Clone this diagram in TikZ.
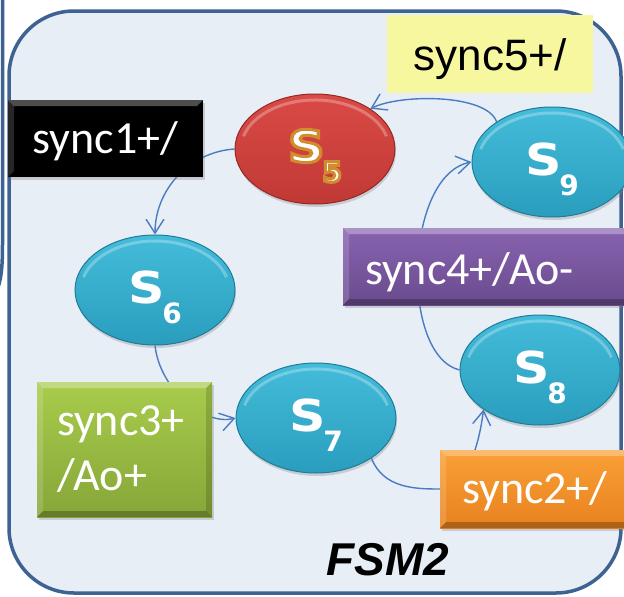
\documentclass[tikz,border=0pt]{standalone}
\usepackage{graphicx}
\usepackage{fontspec}
\newfontfamily\calib{Carlito}
\newfontfamily\arialf{Liberation Sans}
\newfontfamily\roundf{DejaVu Sans}
\usetikzlibrary{shapes.geometric,arrows.meta,calc,shadows}
\pgfdeclarelayer{frame}
\pgfdeclarelayer{wires}
\pgfsetlayers{frame,wires,main}

\definecolor{framec}{HTML}{3E6292}
\definecolor{panelc}{HTML}{E8EEF6}
\definecolor{wirec}{HTML}{4A7CC2}
\definecolor{cyanTop}{HTML}{44BCDA}
\definecolor{cyanBot}{HTML}{2A9DBD}
\definecolor{cyanEdge}{HTML}{1E7C98}
\definecolor{redTop}{HTML}{DA4A46}
\definecolor{redBot}{HTML}{C03935}
\definecolor{redEdge}{HTML}{962824}
\definecolor{yelc}{HTML}{F7F7A0}
\definecolor{purTop}{HTML}{8863B0}
\definecolor{purBot}{HTML}{6A4B8E}
\definecolor{grnTop}{HTML}{A8CC4C}
\definecolor{grnBot}{HTML}{86A638}
\definecolor{orgTop}{HTML}{F9A035}
\definecolor{orgBot}{HTML}{E8821F}

% white text with an amber outline (fill and stroke text rendering)
\newcommand\outlined[1]{\special{pdf:literal direct 2 Tr 3 w 0.82 0.55 0.18 RG}#1\special{pdf:literal direct 0 Tr 0 G}}
\newcommand\plain[1]{#1}
% state label: wide letter with a lowered digit; #1 wraps each glyph
\newcommand\stlabel[2]{\scalebox{1.15}[1]{#1{S}}\kern-2pt\raisebox{-20pt}{\fontsize{28}{28}\selectfont #1{#2}}}
\newcommand\stname[1]{\stlabel\plain{#1}}

\tikzset{
  state/.style={ellipse, minimum width=160pt, minimum height=110pt, inner sep=0pt,
    draw=#1Edge, line width=1pt, top color=#1Top, bottom color=#1Bot,
    drop shadow={shadow xshift=1pt, shadow yshift=-3pt, opacity=.3},
    path picture={\draw[white, opacity=.28, line width=3pt]
      ([shift={(165:74pt and 49pt)}]path picture bounding box.center)
      arc[start angle=165, end angle=15, x radius=74pt, y radius=49pt];},
    text=white, font=\roundf\bfseries\fontsize{44}{44}\selectfont,
    text height=32pt, text depth=6pt},
  bevel/.style={path picture={
    \coordinate (bnw) at (path picture bounding box.north west);
    \coordinate (bne) at (path picture bounding box.north east);
    \coordinate (bsw) at (path picture bounding box.south west);
    \coordinate (bse) at (path picture bounding box.south east);
    \fill[white,opacity=.30] (bnw) -- (bne) -- ($(bne)+(-6pt,-6pt)$) -- ($(bnw)+(6pt,-6pt)$) -- cycle;
    \fill[white,opacity=.15] (bnw) -- ($(bnw)+(6pt,-6pt)$) -- ($(bsw)+(6pt,6pt)$) -- (bsw) -- cycle;
    \fill[black,opacity=.25] (bsw) -- (bse) -- ($(bse)+(-6pt,6pt)$) -- ($(bsw)+(6pt,6pt)$) -- cycle;
    \fill[black,opacity=.15] (bne) -- ($(bne)+(-6pt,-6pt)$) -- ($(bse)+(-6pt,6pt)$) -- (bse) -- cycle;
  }},
  tagbox/.style={rectangle, inner sep=0pt, text=white, bevel,
    font=\calib\fontsize{46}{55}\selectfont,
    drop shadow={shadow xshift=1.5pt, shadow yshift=-3pt, opacity=.3}},
  wire/.style={draw=wirec, line width=1.4pt, -{Straight Barb[length=14pt,width=18pt]}}
}

\begin{document}
\begin{tikzpicture}[x=1pt,y=-1pt]
\useasboundingbox (0,0) rectangle (624,597);
\clip (0,0) rectangle (624,597);

% states
\node[state=red]  (s5) at (315,149) {\stlabel\outlined{5}};
\node[state=cyan] (s9) at (552,162) {\stname{9}};
\node[state=cyan] (s6) at (155,290) {\stname{6}};
\node[state=cyan] (s8) at (540,370) {\stname{8}};
\node[state=cyan] (s7) at (316,418) {\stname{7}};

% transition labels
\node[rectangle, inner sep=0pt, fill=yelc, minimum width=206pt, minimum height=78pt,
      font=\arialf\fontsize{44}{44}\selectfont, text height=38pt, text depth=6pt]
      (sync5) at (490,54) {sync5+/};
\node[tagbox, fill=black, minimum width=195pt, minimum height=77pt,
      text height=36pt, text depth=6pt] (sync1) at (105.5,138.5) {sync1+/};
\node[tagbox, top color=purTop, bottom color=purBot, minimum width=287pt, minimum height=77pt,
      text width=243pt, align=left, text height=40pt, text depth=4pt]
      (sync4) at (486.5,266.5) {sync4+/Ao-};
\node[tagbox, top color=grnTop, bottom color=grnBot, minimum width=175pt, minimum height=135pt,
      text width=135pt, align=left] (sync3) at (124.5,449.5) {sync3+\\/Ao+};
\node[tagbox, top color=orgTop, bottom color=orgBot, minimum width=194pt, minimum height=78pt,
      text width=150pt, align=left, text height=34pt, text depth=6pt]
      (sync2) at (537,489) {sync2+/};

\node[font=\arialf\bfseries\itshape\fontsize{46}{46}\selectfont, anchor=base] (fsm) at (388,575) {FSM2};

% panel frame
\begin{pgfonlayer}{frame}
  \fill[white] (0,0) rectangle (624,597);
  \draw[framec, line width=3.5pt] (2.5,-5) -- (2.5,245) .. controls (2.5,268) and (1,282) .. (-4,292);
  \draw[framec, fill=panelc, line width=3.5pt, rounded corners=65pt] (9,11) rectangle (621,593);
\end{pgfonlayer}

% transitions
\begin{pgfonlayer}{wires}
  \draw[wire] (s5.west) .. controls +(-45,3) and +(0,-45) .. (s6.north);
  \draw[wire] (s6.south) .. controls +(5,45) and +(-30,8) .. (s7.west);
  \draw[wire] (s7.-36) .. controls +(12,30) and +(-25,0) .. (sync2.west)
              .. controls +(25,0) and +(-5,40) .. (s8.-145);
  \draw[wire] (s8.west) .. controls +(-60,-15) and +(-67,13) .. (s9.west);
  \draw[wire] (s9.144) .. controls +(-10,-28) and +(30,-15) .. (s5.36);
\end{pgfonlayer}
\end{tikzpicture}
\end{document}
